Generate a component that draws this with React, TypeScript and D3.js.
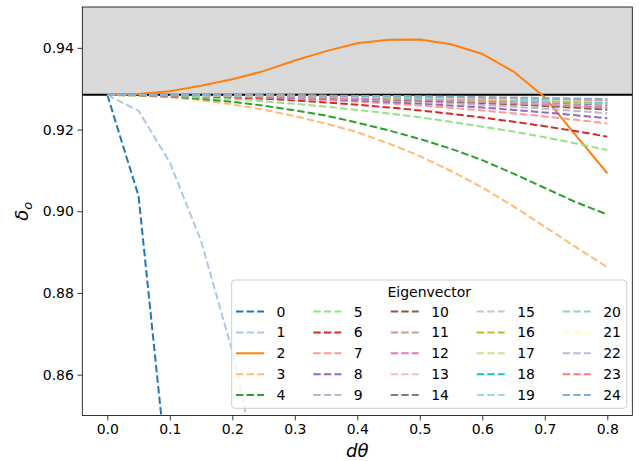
import { useEffect, useRef } from "react";
import * as d3 from "d3";

// step sizes along the x axis
const dTheta = [0, 0.05, 0.1, 0.15, 0.2, 0.25, 0.3, 0.35, 0.4, 0.45, 0.5, 0.55, 0.6, 0.65, 0.7, 0.75, 0.8];

// delta_o per eigenvector
const ev0 = [0.92847, 0.90375, 0.8296];
const ev1 = [0.92847, 0.92461, 0.91195, 0.89271, 0.86582, 0.83014];
const ev2 = [0.92847, 0.9287, 0.92935, 0.9307, 0.9323, 0.9343, 0.9369, 0.9392, 0.9411, 0.942, 0.94205, 0.9409, 0.9385, 0.9342, 0.9279, 0.9185, 0.9093];
const ev3 = [0.92847, 0.92833, 0.9279, 0.92718, 0.92617, 0.92487, 0.9233, 0.92145, 0.91935, 0.9166, 0.9135, 0.90985, 0.9058, 0.9012, 0.8962, 0.8912, 0.8863];
const ev4 = [0.92847, 0.92837, 0.92805, 0.92753, 0.9268, 0.92585, 0.92468, 0.9234, 0.9217, 0.9198, 0.9177, 0.9153, 0.9125, 0.9092, 0.9057, 0.9022, 0.8992];
const ev5 = [0.92847, 0.9284, 0.9282, 0.9279, 0.92745, 0.9269, 0.9263, 0.9256, 0.9248, 0.92395, 0.923, 0.9219, 0.9207, 0.9195, 0.9181, 0.9166, 0.915];
const ev6 = [0.92847, 0.92843, 0.92832, 0.92814, 0.92788, 0.92755, 0.92713, 0.92664, 0.92607, 0.92542, 0.92468, 0.92385, 0.92293, 0.92192, 0.92081, 0.91959, 0.91827];
const ev7 = [0.92847, 0.92844, 0.92837, 0.92824, 0.92807, 0.92784, 0.92755, 0.92722, 0.92682, 0.92638, 0.92587, 0.9253, 0.92467, 0.92397, 0.92321, 0.92238, 0.92147];
const ev8 = [0.92847, 0.92845, 0.92839, 0.92829, 0.92814, 0.92795, 0.92772, 0.92745, 0.92713, 0.92677, 0.92635, 0.92589, 0.92538, 0.92481, 0.92419, 0.92351, 0.92277];
const ev9 = [0.92847, 0.92845, 0.92841, 0.92832, 0.92821, 0.92806, 0.92788, 0.92766, 0.92741, 0.92712, 0.9268, 0.92643, 0.92603, 0.92558, 0.92509, 0.92455, 0.92397];
const ev10 = [0.92847, 0.92846, 0.92842, 0.92835, 0.92826, 0.92814, 0.928, 0.92783, 0.92762, 0.92739, 0.92713, 0.92684, 0.92652, 0.92616, 0.92577, 0.92534, 0.92487];
const ev11 = [0.92847, 0.92846, 0.92842, 0.92837, 0.92829, 0.92818, 0.92805, 0.9279, 0.92772, 0.92751, 0.92728, 0.92702, 0.92673, 0.92642, 0.92607, 0.92569, 0.92527];
const ev12 = [0.92847, 0.92846, 0.92843, 0.92838, 0.9283, 0.92821, 0.92809, 0.92795, 0.92779, 0.9276, 0.92739, 0.92716, 0.9269, 0.92661, 0.92629, 0.92595, 0.92557];
const ev13 = [0.92847, 0.92846, 0.92843, 0.92839, 0.92832, 0.92823, 0.92813, 0.928, 0.92786, 0.92769, 0.9275, 0.92729, 0.92706, 0.9268, 0.92652, 0.92621, 0.92587];
const ev14 = [0.92847, 0.92846, 0.92844, 0.92839, 0.92833, 0.92825, 0.92816, 0.92804, 0.92791, 0.92775, 0.92758, 0.92738, 0.92717, 0.92693, 0.92667, 0.92638, 0.92607];
const ev15 = [0.92847, 0.92846, 0.92844, 0.9284, 0.92834, 0.92827, 0.92818, 0.92808, 0.92795, 0.92781, 0.92765, 0.92747, 0.92728, 0.92706, 0.92682, 0.92656, 0.92627];
const ev16 = [0.92847, 0.92846, 0.92844, 0.92841, 0.92835, 0.92829, 0.92821, 0.92811, 0.928, 0.92787, 0.92773, 0.92757, 0.92738, 0.92719, 0.92697, 0.92673, 0.92647];
const ev17 = [0.92847, 0.92846, 0.92844, 0.92841, 0.92837, 0.92831, 0.92823, 0.92815, 0.92805, 0.92793, 0.9278, 0.92766, 0.92749, 0.92731, 0.92712, 0.9269, 0.92667];
const ev18 = [0.92847, 0.92846, 0.92845, 0.92841, 0.92837, 0.92832, 0.92825, 0.92817, 0.92807, 0.92796, 0.92784, 0.9277, 0.92755, 0.92738, 0.92719, 0.92699, 0.92677];
const ev19 = [0.92847, 0.92846, 0.92845, 0.92842, 0.92838, 0.92833, 0.92826, 0.92818, 0.92809, 0.92799, 0.92788, 0.92775, 0.9276, 0.92744, 0.92727, 0.92708, 0.92687];
const ev20 = [0.92847, 0.92846, 0.92845, 0.92842, 0.92838, 0.92833, 0.92827, 0.9282, 0.92812, 0.92802, 0.92791, 0.92779, 0.92766, 0.92751, 0.92734, 0.92716, 0.92697];
const ev21 = [0.92847, 0.92846, 0.92845, 0.92842, 0.92839, 0.92834, 0.92829, 0.92822, 0.92814, 0.92805, 0.92795, 0.92784, 0.92771, 0.92757, 0.92742, 0.92725, 0.92707];
const ev22 = [0.92847, 0.92847, 0.92845, 0.92843, 0.92839, 0.92835, 0.9283, 0.92824, 0.92816, 0.92808, 0.92799, 0.92788, 0.92776, 0.92764, 0.92749, 0.92734, 0.92717];
const ev23 = [0.92847, 0.92847, 0.92845, 0.92843, 0.9284, 0.92836, 0.92831, 0.92826, 0.92819, 0.92811, 0.92802, 0.92793, 0.92782, 0.9277, 0.92757, 0.92743, 0.92727];
const ev24 = [0.92847, 0.92847, 0.92846, 0.92844, 0.92841, 0.92838, 0.92834, 0.92829, 0.92824, 0.92817, 0.9281, 0.92802, 0.92793, 0.92783, 0.92772, 0.9276, 0.92747];

const series = [ev0, ev1, ev2, ev3, ev4, ev5, ev6, ev7, ev8, ev9, ev10, ev11, ev12, ev13, ev14, ev15, ev16, ev17, ev18, ev19, ev20, ev21, ev22, ev23, ev24];

// tab20 for 0-19, Set3 for 20-24
const colors = [
  "#1f77b4", "#aec7e8", "#ff7f0e", "#ffbb78", "#2ca02c", "#98df8a", "#d62728", "#ff9896", "#9467bd", "#c5b0d5",
  "#8c564b", "#c49c94", "#e377c2", "#f7b6d2", "#7f7f7f", "#c7c7c7", "#bcbd22", "#dbdb8d", "#17becf", "#9edae5",
  "#8dd3c7", "#ffffb3", "#bebada", "#fb8072", "#80b1d3",
];

const baseline = 0.9285;
const xTicks = [0, 0.1, 0.2, 0.3, 0.4, 0.5, 0.6, 0.7, 0.8];
const yTicks = [0.86, 0.88, 0.9, 0.92, 0.94];

const App = () => {
  const ref = useRef<SVGSVGElement>(null);

  useEffect(() => {
    const svg = d3.select(ref.current);
    svg.selectAll("*").remove();

    const margin = { top: 7, right: 6.7, bottom: 45, left: 82.3 };
    const width = 639 - margin.left - margin.right;
    const height = 461 - margin.top - margin.bottom - 0.5;
    const font = "DejaVu Sans, sans-serif";
    const dash = "7.4,3.2";

    const x = d3.scaleLinear().domain([-0.04, 0.84]).range([0, width]);
    const y = d3.scaleLinear().domain([0.85, 0.95]).range([height, 0]);

    svg.append("defs").append("clipPath").attr("id", "plot-clip")
      .append("rect").attr("width", width).attr("height", height);

    const g = svg.append("g").attr("transform", `translate(${margin.left},${margin.top})`);

    // shaded region above the reference value
    g.append("rect")
      .attr("x", 0).attr("y", 0)
      .attr("width", width).attr("height", y(baseline))
      .attr("fill", "#d9d9d9");

    g.append("line")
      .attr("x1", 0).attr("x2", width)
      .attr("y1", y(baseline)).attr("y2", y(baseline))
      .attr("stroke", "#000").attr("stroke-width", 2);

    const line = d3.line<number>()
      .x((_, i) => x(dTheta[i]))
      .y(d => y(d));

    const plot = g.append("g").attr("clip-path", "url(#plot-clip)");
    series.forEach((vals, i) => {
      plot.append("path")
        .datum(vals)
        .attr("d", line)
        .attr("fill", "none")
        .attr("stroke", colors[i])
        .attr("stroke-width", 2)
        .attr("stroke-dasharray", i === 2 ? null : dash);
    });

    // axes
    const xAxis = g.append("g")
      .attr("transform", `translate(0,${height})`)
      .call(d3.axisBottom(x).tickValues(xTicks).tickFormat(d3.format(".1f")).tickSizeOuter(0).tickSize(4.9).tickPadding(3.5));
    const yAxis = g.append("g")
      .call(d3.axisLeft(y).tickValues(yTicks).tickFormat(d3.format(".2f")).tickSizeOuter(0).tickSize(4.9).tickPadding(3.5));
    [xAxis, yAxis].forEach(a => {
      a.select(".domain").remove();
      a.selectAll("line").attr("stroke", "#000").attr("stroke-width", 0.8);
      a.selectAll("text").attr("font-family", font).attr("font-size", 14).attr("fill", "#000");
    });

    g.append("rect")
      .attr("width", width).attr("height", height)
      .attr("fill", "none").attr("stroke", "#000").attr("stroke-width", 0.8);

    // axis labels
    svg.append("text")
      .attr("x", margin.left + width / 2).attr("y", 457)
      .attr("text-anchor", "middle")
      .attr("font-family", font).attr("font-size", 18).attr("font-style", "italic")
      .text("dθ");

    const yl = svg.append("text")
      .attr("transform", `translate(28,${margin.top + height / 2}) rotate(-90)`)
      .attr("text-anchor", "middle")
      .attr("font-family", font).attr("font-size", 18).attr("font-style", "italic");
    yl.append("tspan").text("δ");
    yl.append("tspan").attr("font-size", 13).attr("dy", 3.5).text("o");

    // legend
    const leg = svg.append("g").attr("transform", "translate(231.7,280)");
    leg.append("rect")
      .attr("width", 395).attr("height", 128.3).attr("rx", 3)
      .attr("fill", "#fff").attr("fill-opacity", 0.8)
      .attr("stroke", "#cccccc").attr("stroke-width", 1);
    leg.append("text")
      .attr("x", 197.5).attr("y", 16.7)
      .attr("text-anchor", "middle")
      .attr("font-family", font).attr("font-size", 14)
      .text("Eigenvector");
    const colX = [4.3, 81.6, 159, 245, 331];
    series.forEach((_, i) => {
      const col = Math.floor(i / 5);
      const row = i % 5;
      const cy = 31.5 + row * 20.9;
      const cx = colX[col];
      leg.append("line")
        .attr("x1", cx).attr("x2", cx + 28)
        .attr("y1", cy).attr("y2", cy)
        .attr("stroke", colors[i]).attr("stroke-width", 2)
        .attr("stroke-dasharray", i === 2 ? null : dash);
      leg.append("text")
        .attr("x", cx + 40.5).attr("y", cy + 5)
        .attr("font-family", font).attr("font-size", 14)
        .text(String(i));
    });
  }, []);

  return <svg ref={ref} width={639} height={461} style={{ position: "absolute", left: 0, top: 0 }} />;
};

export default App;
